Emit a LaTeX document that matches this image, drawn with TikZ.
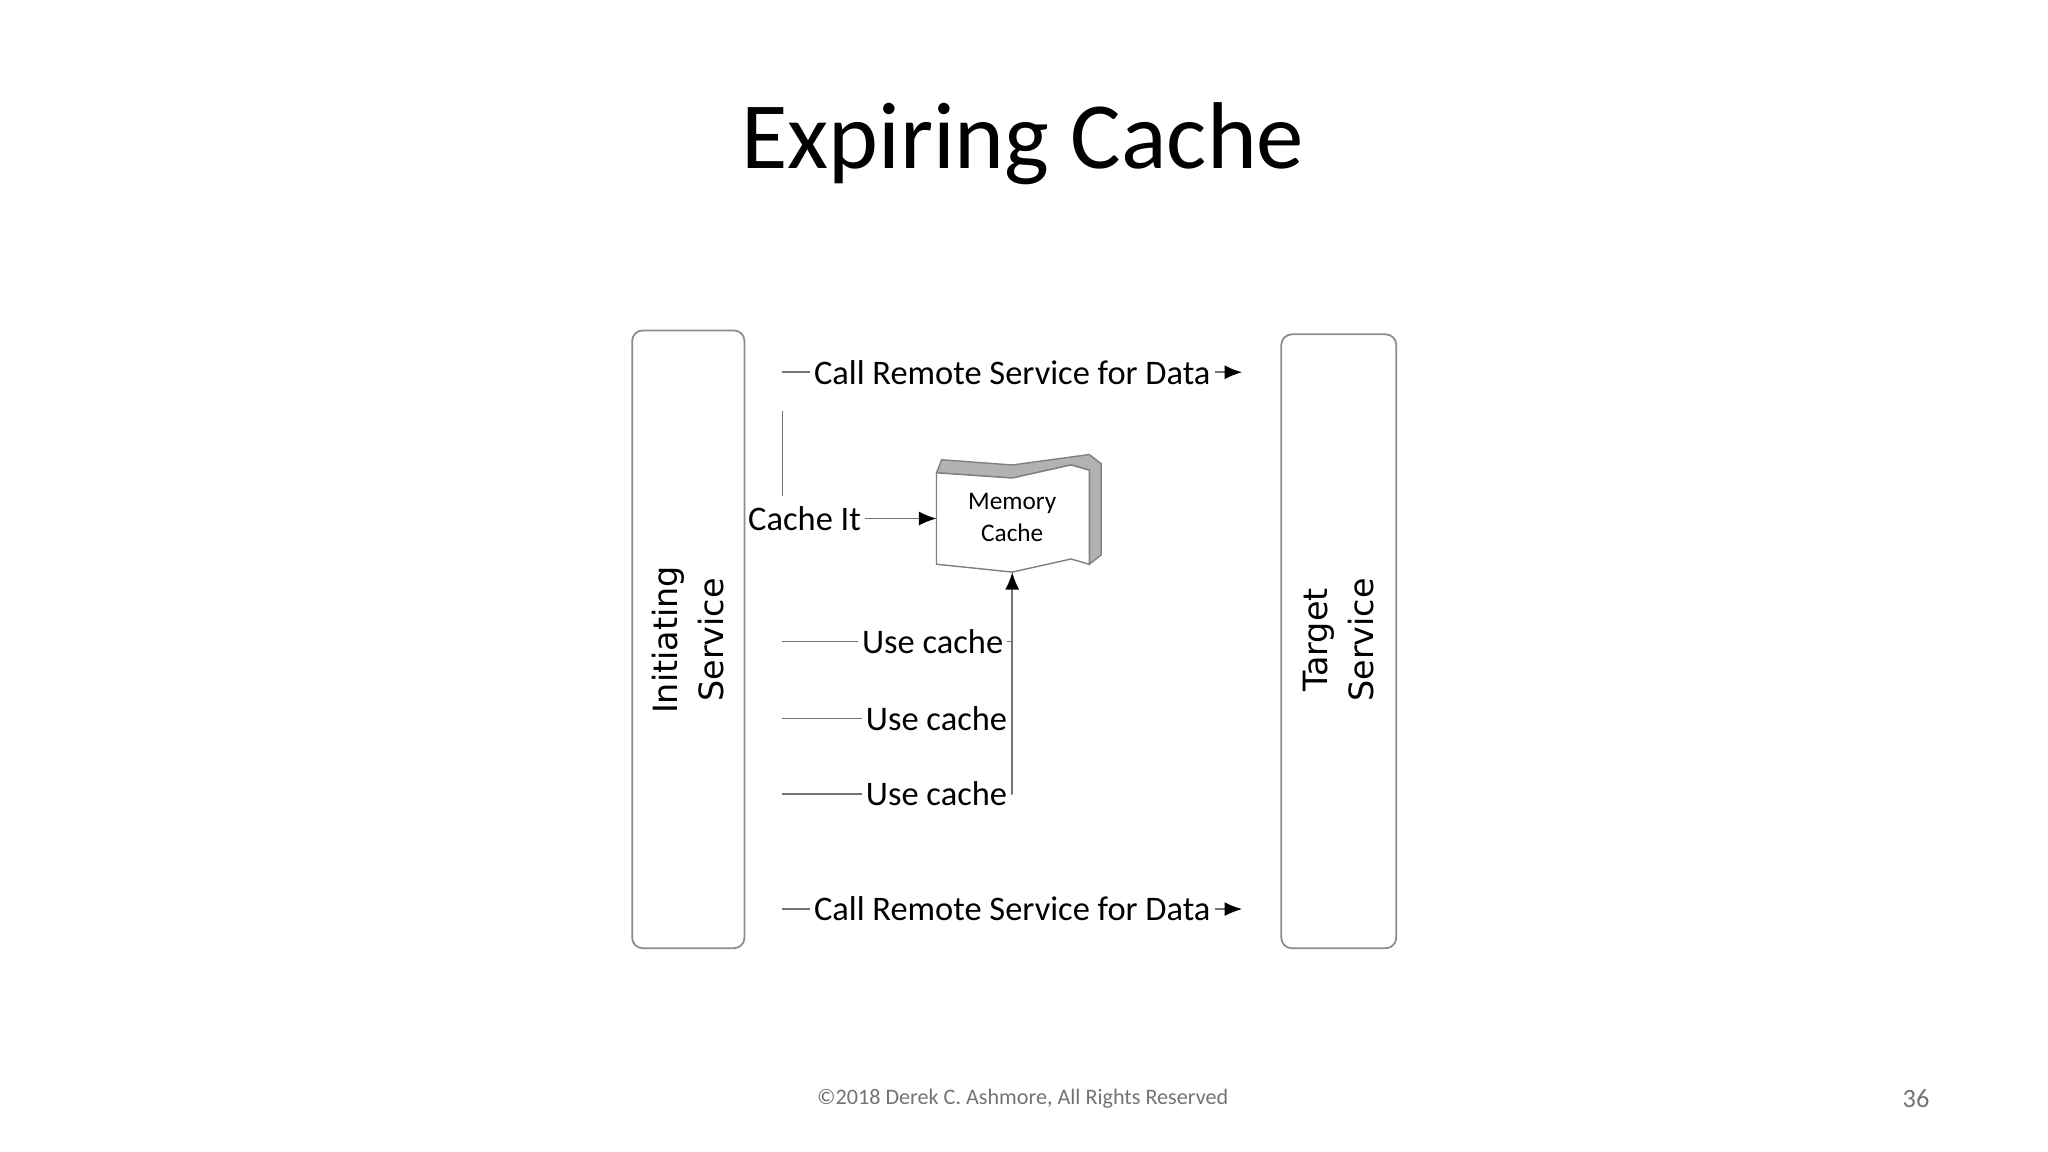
\documentclass[tikz,border=0pt]{standalone}
\usepackage{fontspec}
\setmainfont{Carlito}
\newfontfamily\boxfont{DejaVu Sans}
\usetikzlibrary{arrows.meta}
\tikzset{
  svc/.style={draw=black!45, rounded corners=3pt, line width=.5pt},
  msg/.style={font=\fontsize{9.8}{11}\selectfont, inner sep=1pt},
  wire/.style={draw=black!55, line width=.45pt},
  tip/.style={wire, -{Latex[length=5pt,width=4pt,black]}}
}
\begin{document}
\begin{tikzpicture}[x=0.01306cm, y=-0.01306cm]
	\useasboundingbox (0,0) rectangle (1568,882);
	\node[font=\fontsize{27}{30}\selectfont] (title) at (783,110) {Expiring Cache};
	
	% the two services
	\draw[svc] (484,253) rectangle (570,726);
	\draw[svc] (981,256) rectangle (1069,726);
	\node[rotate=90, align=center, font=\boxfont\fontsize{9.5}{13}\selectfont] (init) at (527,490) {Initiating\\Service};
	\node[rotate=90, align=center, font=\boxfont\fontsize{9.5}{13}\selectfont] (target) at (1025,490) {Target\\Service};
	
	% memory cache
	\fill[black!30, draw=black!50, line width=.4pt] (717,362) -- (721,352) -- (775,356) -- (834,348) -- (843,355) -- (843,425) -- (834,432) -- (834,360) -- (820,356) -- (775,366) -- cycle;
	\draw[fill=white, draw=black!50, line width=.4pt] (717,362) -- (775,366) -- (820,356) -- (834,360) -- (834,432) -- (820,428) -- (775,438) -- (717,432) -- cycle;
	\node[align=center, font=\fontsize{7.2}{9}\selectfont] (mem) at (775,396) {Memory\\Cache};
	\coordinate (memL) at (717,397);
	\coordinate (memB) at (775,438);
	
	% remote calls
	\coordinate (c1a) at (599,285);
	\coordinate (c1b) at (951,285);
	\node[msg] (call1) at (775,285) {Call Remote Service for Data};
	\draw[wire] (c1a) -- (call1.west);
	\draw[tip] (call1.east) -- (c1b);
	\coordinate (c2a) at (599,696);
	\coordinate (c2b) at (951,696);
	\node[msg] (call2) at (775,696) {Call Remote Service for Data};
	\draw[wire] (c2a) -- (call2.west);
	\draw[tip] (call2.east) -- (c2b);
	
	% cache it
	\coordinate (v1) at (599,315);
	\coordinate (v2) at (599,380);
	\draw[wire] (v1) -- (v2);
	\node[msg] (cacheit) at (616,397) {Cache It};
	\draw[tip] (cacheit.east) -- (memL);
	
	% use cache
	\coordinate (u1) at (599,491);
	\coordinate (u2) at (599,550);
	\coordinate (u3) at (599,608);
	\coordinate (r1) at (775,491);
	\coordinate (r2) at (775,550);
	\coordinate (r3) at (775,608);
	\node[msg] (use1) at (714,491) {Use cache};
	\node[msg] (use2) at (717,550) {Use cache};
	\node[msg] (use3) at (717,608) {Use cache};
	\draw[wire] (u1) -- (use1.west);
	\draw[wire] (u2) -- (use2.west);
	\draw[wire] (u3) -- (use3.west);
	\draw[wire] (use1.east) -- (r1);
	\draw[wire] (use2.east) -- (r2);
	\draw[wire] (use3.east) -- (r3);
	\draw[tip] (r3) -- (memB);
	
	\node[text=black!55, font=\fontsize{6.3}{8}\selectfont] (foot) at (783,841) {©2018 Derek C. Ashmore, All Rights Reserved};
	\node[text=black!55, font=\fontsize{7.5}{9}\selectfont] (page) at (1467,841) {36};
\end{tikzpicture}
\end{document}
